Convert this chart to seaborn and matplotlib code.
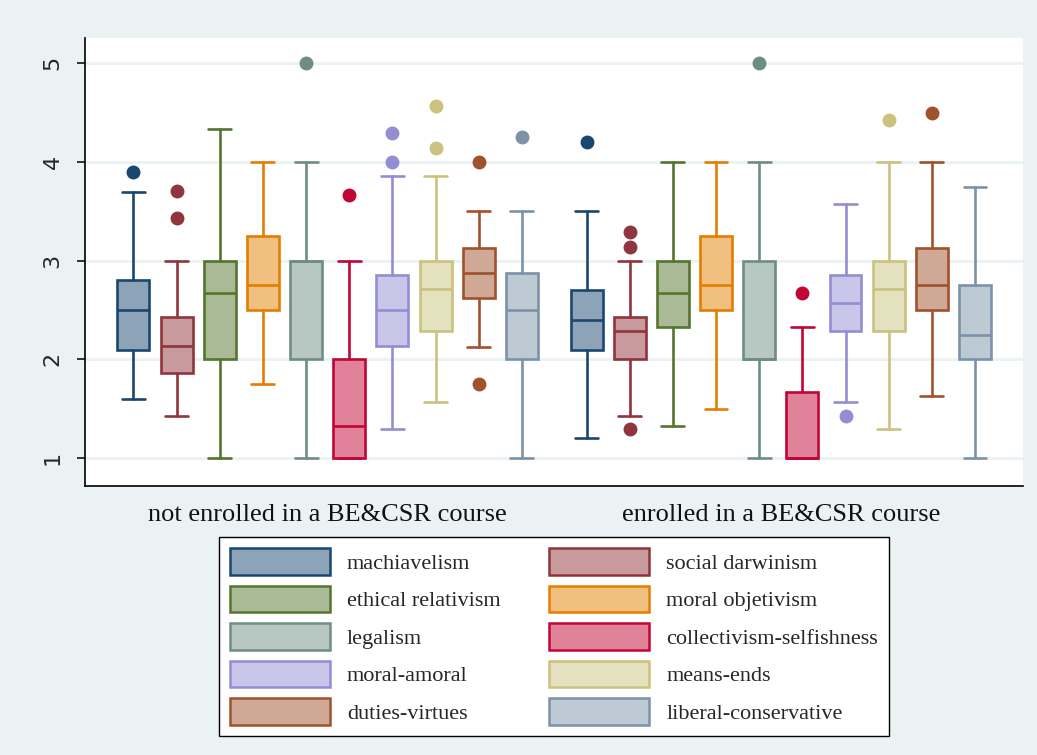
import numpy as np
import matplotlib
matplotlib.use("Agg")
import matplotlib.pyplot as plt
from matplotlib.patches import Patch
import seaborn as sns

# ---------------- data ----------------
scales = ["machiavelism", "social darwinism", "ethical relativism", "moral objetivism",
          "legalism", "collectivism-selfishness", "moral-amoral", "means-ends",
          "duties-virtues", "liberal-conservative"]
groups = ["not enrolled in a BE&CSR course", "enrolled in a BE&CSR course"]

# not enrolled
ne_whislo = [1.60, 1.43, 1.00, 1.75, 1.00, 1.00, 1.29, 1.57, 2.125, 1.00]
ne_q1     = [2.10, 1.86, 2.00, 2.50, 2.00, 1.00, 2.14, 2.29, 2.625, 2.00]
ne_med    = [2.50, 2.14, 2.67, 2.75, 3.00, 1.33, 2.50, 2.71, 2.875, 2.50]
ne_q3     = [2.80, 2.43, 3.00, 3.25, 3.00, 2.00, 2.86, 3.00, 3.125, 2.875]
ne_whishi = [3.70, 3.00, 4.33, 4.00, 4.00, 3.00, 3.86, 3.86, 3.50, 3.50]
ne_out    = [[3.90], [3.71, 3.43], [], [], [5.00], [3.67], [4.29, 4.00],
             [4.57, 4.14], [4.00, 1.75], [4.25]]

# enrolled
en_whislo = [1.20, 1.43, 1.33, 1.50, 1.00, 1.00, 1.57, 1.29, 1.625, 1.00]
en_q1     = [2.10, 2.00, 2.33, 2.50, 2.00, 1.00, 2.29, 2.29, 2.50, 2.00]
en_med    = [2.40, 2.29, 2.67, 2.75, 2.00, 1.00, 2.57, 2.71, 2.75, 2.25]
en_q3     = [2.70, 2.43, 3.00, 3.25, 3.00, 1.67, 2.86, 3.00, 3.125, 2.75]
en_whishi = [3.50, 3.00, 4.00, 4.00, 4.00, 2.33, 3.57, 4.00, 4.00, 3.75]
en_out    = [[4.20], [3.29, 3.14, 1.29], [], [], [5.00], [2.67], [1.43],
             [4.43], [4.50], []]

edge_colors = ["#1a476f", "#90353b", "#55752f", "#e37e00", "#6e8e84",
               "#c10534", "#938dd2", "#cac27e", "#a0522d", "#7b92a8"]

# ---------------- style ----------------
sns.set_theme(style="white")
bg = "#eaf2f3"
plt.rcParams["font.family"] = ["DejaVu Sans"]

palette = sns.color_palette(edge_colors)
fills = [tuple(0.5 * np.array(c) + 0.5) for c in palette]

fig = plt.figure(figsize=(10.37, 7.55), dpi=100, facecolor=bg)
ax = fig.add_axes([84.7 / 1037, 1 - 485.7 / 755, (1023.3 - 84.7) / 1037, (485.7 - 37.7) / 755])
ax.set_facecolor("white")

n = len(scales)
group_data = [
    (ne_whislo, ne_q1, ne_med, ne_q3, ne_whishi, ne_out),
    (en_whislo, en_q1, en_med, en_q3, en_whishi, en_out),
]
offsets = [0.0, n + 0.5]
lw = 1.9

for g, (wl, q1, md, q3, wh, out) in enumerate(group_data):
    for i in range(n):
        st = dict(whislo=wl[i], q1=q1[i], med=md[i], q3=q3[i], whishi=wh[i],
                  fliers=np.array(out[i]), label=scales[i])
        c = palette[i]
        ax.bxp([st], positions=[offsets[g] + i], widths=0.74, patch_artist=True,
               showfliers=True, capwidths=[0.53],
               boxprops=dict(facecolor=fills[i], edgecolor=c, linewidth=lw),
               medianprops=dict(color=c, linewidth=lw),
               whiskerprops=dict(color=c, linewidth=lw),
               capprops=dict(color=c, linewidth=lw),
               flierprops=dict(marker="o", markerfacecolor=c, markeredgecolor=c,
                               markersize=9, linestyle="none"),
               manage_ticks=False, zorder=3)

ax.set_xlim(-1.13, offsets[1] + n - 1 + 1.12)
ax.set_ylim(0.72, 5.26)

ax.set_yticks([1, 2, 3, 4, 5])
ax.set_yticklabels(["1", "2", "3", "4", "5"], rotation=90, va="center",
                   fontsize=16, family="DejaVu Sans")
ax.tick_params(axis="y", which="major", left=True, length=6, width=1.1,
               color="black", pad=10)
ax.yaxis.grid(True, color=bg, linewidth=2.0, zorder=0)
ax.set_axisbelow(True)

centers = [offsets[0] + (n - 1) / 2, offsets[1] + (n - 1) / 2]
ax.set_xticks(centers)
ax.set_xticklabels(groups, fontsize=19, family="Liberation Serif", color="#111111")
ax.tick_params(axis="x", bottom=False, length=0, pad=13)

for s in ["top", "right"]:
    ax.spines[s].set_visible(False)
for s in ["left", "bottom"]:
    ax.spines[s].set_color("black")
    ax.spines[s].set_linewidth(1.2)

# ---------------- legend ----------------
handles = [Patch(facecolor=fills[i], edgecolor=palette[i], linewidth=1.8, label=scales[i])
           for i in range(n)]
order = [0, 2, 4, 6, 8, 1, 3, 5, 7, 9]
leg = fig.legend([handles[k] for k in order], [scales[k] for k in order],
                 ncol=2, loc="upper left",
                 bbox_to_anchor=(219 / 1037, 1 - 537 / 755, 670 / 1037, 0.0),
                 mode="expand", borderaxespad=0, frameon=True, fancybox=False,
                 prop={"family": "Liberation Serif", "size": 16},
                 handlelength=4.5, handleheight=1.45, handletextpad=0.75,
                 labelspacing=0.5, borderpad=0.5, columnspacing=1.0)
leg.get_frame().set_edgecolor("black")
leg.get_frame().set_linewidth(1.0)
leg.get_frame().set_facecolor("white")
leg.get_frame().set_alpha(1.0)

fig.savefig("out.png", dpi=100, facecolor=bg)
